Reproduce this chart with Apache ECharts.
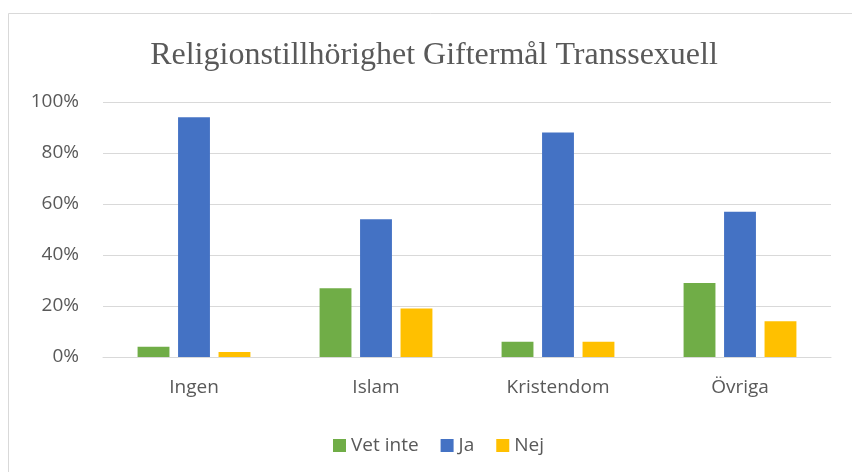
<!DOCTYPE html>
<html>
<head>
<meta charset="utf-8">
<script src="https://cdn.jsdelivr.net/npm/echarts@6/dist/echarts.min.js"></script>
<style>
    html, body { margin: 0; padding: 0; background: #fff; }
    #chart { width: 852px; height: 472px; }
</style>
</head>
<body>
<div id="chart"></div>
<script>
let categories = ['Ingen', 'Islam', 'Kristendom', 'Övriga'];
let vetInte = [4, 27, 6, 29];
let ja = [94, 54, 88, 57];
let nej = [2, 19, 6, 14];
let yTicks = [0, 20, 40, 60, 80, 100];

let textColor = '#595959';
let font = 'Open Sans';

let myChart = echarts.init(document.getElementById('chart'));
let option = {
    backgroundColor: '#fff',
    animation: false,
    graphic: [{
        type: 'rect',
        shape: { x: 8.5, y: 13.5, width: 900, height: 500 },
        style: { fill: 'none', stroke: '#d9d9d9', lineWidth: 1 },
        silent: true
    }],
    title: {
        text: 'Religionstillhörighet Giftermål Transsexuell',
        left: 429,
        top: 35,
        textAlign: 'center',
        textStyle: {
            fontFamily: 'Liberation Serif',
            fontSize: 32,
            fontWeight: 'normal',
            color: textColor
        }
    },
    legend: {
        top: 431,
        left: 328,
        itemWidth: 13,
        itemHeight: 13,
        itemGap: 22,
        icon: 'rect',
        textStyle: { fontFamily: font, fontSize: 19, color: textColor },
        data: ['Vet inte', 'Ja', 'Nej']
    },
    grid: { left: 103, right: 21, top: 102, bottom: 115, containLabel: false },
    xAxis: {
        type: 'category',
        data: categories,
        axisLine: { lineStyle: { color: '#d9d9d9', width: 1 } },
        axisTick: { show: false },
        axisLabel: { fontFamily: font, fontSize: 19, color: textColor, margin: 21 }
    },
    yAxis: {
        type: 'value',
        min: yTicks[0],
        max: yTicks[yTicks.length - 1],
        interval: 20,
        axisLine: { show: false },
        axisTick: { show: false },
        splitLine: { lineStyle: { color: '#d9d9d9', width: 1 } },
        axisLabel: {
            fontFamily: font, fontSize: 19, color: textColor, margin: 24,
            formatter: function (v) { return v + '%'; }
        }
    },
    series: [
        { name: 'Vet inte', type: 'bar', data: vetInte, itemStyle: { color: '#70ad47' },
          barGap: '27%', barCategoryGap: '38%' },
        { name: 'Ja', type: 'bar', data: ja, itemStyle: { color: '#4472c4' } },
        { name: 'Nej', type: 'bar', data: nej, itemStyle: { color: '#ffc000' } }
    ]
};
myChart.setOption(option);
</script>
</body>
</html>
